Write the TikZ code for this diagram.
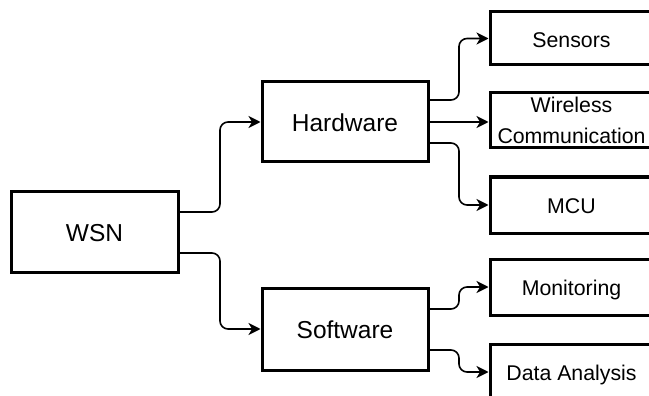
\documentclass[tikz,border=0pt]{standalone}
\usepackage{fontspec}
\setmainfont{Liberation Sans}
\usetikzlibrary{arrows.meta,calc}
\begin{document}
\begin{tikzpicture}[x=1pt,y=-1pt,
  box/.style={draw,line width=3pt,rectangle,inner sep=0pt,align=center},
  big/.style={box,minimum width=167pt,minimum height=81pt,text height=19pt,text depth=0pt,
    font=\fontsize{24.5}{29}\selectfont},
  leaf/.style={box,minimum width=163pt,minimum height=55pt,text height=17.5pt,text depth=0pt,
    font=\fontsize{21.3}{31}\selectfont},
  twoline/.style={text height=,text depth=},
  conn/.style={line width=1.6pt,rounded corners=8pt,-{Stealth[length=12pt,width=12pt,inset=3.5pt]}}]
  \clip (0,0) rectangle (649,396);

  % root and the two branches
  \node[big] (wsn) at (94.5,232) {WSN};
  \node[big,minimum width=166pt,minimum height=80pt] (hw) at (345,122) {Hardware};
  \node[big,minimum width=166pt,minimum height=82pt] (sw) at (345,329) {Software};

  % leaves
  \node[leaf,minimum height=53pt] (sens) at (571.5,38.5) {Sensors};
  \node[leaf,twoline] (wire) at (571.5,120.5) {Wireless\\Communication};
  \node[leaf,minimum height=56pt] (mcu) at (571.5,205) {MCU};
  \node[leaf,minimum height=56pt] (mon) at (571.5,287) {Monitoring};
  \node[leaf,minimum height=56pt] (data) at (571.5,372) {Data Analysis};

  % bend points halfway between the columns
  \coordinate (j1) at ($(wsn.east)!0.5!(hw.west)$);
  \coordinate (j2) at ($(hw.east)!0.5!(sens.west)$);

  % WSN to its branches
  \draw[conn] ([yshift=20pt]wsn.east) -| (j1 |- hw.west) -- (hw.west);
  \draw[conn] ([yshift=-21pt]wsn.east) -| (j1 |- sw.west) -- (sw.west);

  % Hardware to its leaves
  \draw[conn] ([yshift=22pt]hw.east) -| (j2 |- sens.west) -- (sens.west);
  \draw[conn] (hw.east) -- (hw.east -| wire.west);
  \draw[conn] ([yshift=-21pt]hw.east) -| (j2 |- mcu.west) -- (mcu.west);

  % Software to its leaves
  \draw[conn] ([yshift=20pt]sw.east) -| (j2 |- mon.west) -- (mon.west);
  \draw[conn] ([yshift=-21pt]sw.east) -| (j2 |- data.west) -- (data.west);
\end{tikzpicture}
\end{document}
